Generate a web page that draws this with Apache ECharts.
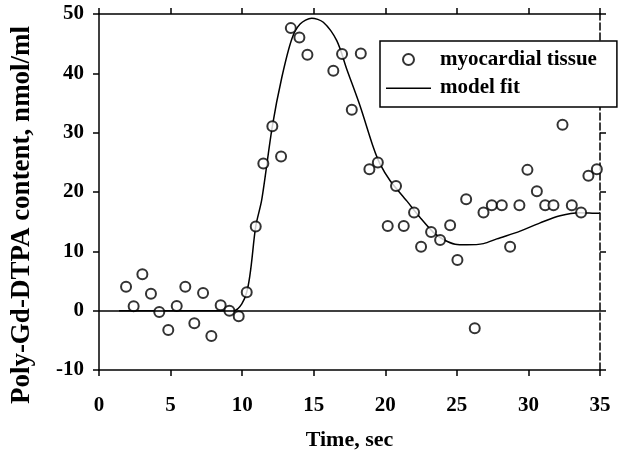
<!DOCTYPE html>
<html>
<head>
<meta charset="utf-8">
<script src="https://cdn.jsdelivr.net/npm/echarts@6/dist/echarts.min.js"></script>
<style>
html,body{margin:0;padding:0;background:#fff;}
#chart{width:624px;height:459px;}
</style>
</head>
<body>
<div id="chart"></div>
<script>
// Observed myocardial tissue content (time in s, nmol/ml)
var obsTime = [1.89, 2.42, 3.03, 3.63, 4.21, 4.84, 5.43, 6.03, 6.66, 7.27, 7.85, 8.50, 9.11, 9.76, 10.32,
  10.95, 11.48, 12.11, 12.72, 13.40, 14.00, 14.56, 16.37, 16.98, 17.66, 18.29, 18.89, 19.48,
  20.17, 20.75, 21.29, 22.01, 22.50, 23.20, 23.83, 24.53, 25.04, 25.65, 26.25, 26.86, 27.44,
  28.14, 28.72, 29.37, 29.93, 30.59, 31.17, 31.75, 32.38, 33.03, 33.68, 34.19, 34.78];
var obsValue = [4.05, 0.74, 6.14, 2.87, -0.22, -3.25, 0.79, 4.05, -2.12, 2.98, -4.27, 0.91, 0.0, -0.94, 3.10,
  14.17, 24.79, 31.10, 25.97, 47.62, 46.04, 43.12, 40.42, 43.24, 33.85, 43.34, 23.85, 24.96,
  14.28, 21.03, 14.28, 16.53, 10.79, 13.27, 11.92, 14.40, 8.55, 18.79, -2.97, 16.53, 17.77,
  17.77, 10.79, 17.77, 23.73, 20.13, 17.77, 17.77, 31.32, 17.77, 16.53, 22.72, 23.85];

// Model fit curve
var fitTime = [1.4, 9.39, 10.32, 10.95, 11.37, 12.11, 12.77, 13.47, 14.05, 14.86, 15.67, 16.61, 17.31,
  18.24, 19.17, 19.64, 20.34, 21.5, 22.43, 23.36, 24.06, 24.88, 25.7, 26.86, 27.79, 29.42, 30.82,
  32.21, 33.6, 34.89, 35];
var fitValue = [0, 0, 3.1, 14.2, 18.7, 31.1, 39.3, 45.8, 48.3, 49.3, 48.6, 45.5, 40.7,
  34.5, 27.5, 24.7, 21.9, 18.5, 15.7, 13.2, 12.0, 11.2, 11.1, 11.3, 12.1, 13.4, 14.8,
  16.0, 16.5, 16.4, 16.5];

var xRange = [0, 35], xStep = 5;
var yRange = [-10, 50], yStep = 10;
var seriesNames = ['myocardial tissue', 'model fit'];
var xTitle = 'Time, sec';
var yTitle = 'Poly-Gd-DTPA content, nmol/ml';

var FONT = '"Liberation Serif", "Times New Roman", serif';

function zip(a, b) { return a.map(function (v, i) { return [v, b[i]]; }); }

var chart = echarts.init(document.getElementById('chart'), null, {renderer: 'canvas'});
chart.setOption({
  animation: false,
  backgroundColor: '#fff',
  grid: {left: 99, right: 24, top: 14, bottom: 89, containLabel: false},
  legend: {
    orient: 'vertical',
    left: 380, top: 41,
    padding: [8, 20, 9, 6],
    itemGap: 7,
    itemWidth: 45, itemHeight: 11,
    borderColor: '#000', borderWidth: 1.5,
    backgroundColor: '#fff',
    textStyle: {fontFamily: FONT, fontWeight: 'bold', fontSize: 21, color: '#000', padding: [0, 0, 0, 4]},
    data: [
      {name: seriesNames[0], icon: 'emptyCircle', itemStyle: {borderWidth: 1.8}},
      {name: seriesNames[1], icon: 'path://M0,0L0,0Z M0,5.6H45V7.1H0Z M45,11L45,11Z', itemStyle: {color: '#000'}}
    ]
  },
  xAxis: [{
    type: 'value', position: 'bottom', min: xRange[0], max: xRange[1], interval: xStep,
    name: xTitle, nameLocation: 'middle', nameGap: 59,
    nameTextStyle: {fontFamily: FONT, fontWeight: 'bold', fontSize: 22, color: '#000'},
    axisLine: {show: true, onZero: false, lineStyle: {color: '#000', width: 1.5}},
    axisTick: {show: true, inside: false, length: 6, lineStyle: {color: '#000', width: 1.5}},
    axisLabel: {fontFamily: FONT, fontWeight: 'bold', fontSize: 21, color: '#000', margin: 25},
    splitLine: {show: false}
  }, {
    type: 'value', position: 'top', min: xRange[0], max: xRange[1], interval: xStep,
    axisLine: {show: true, onZero: false, lineStyle: {color: '#000', width: 1.5}},
    axisTick: {show: true, inside: false, length: 6, lineStyle: {color: '#000', width: 1.5}},
    axisLabel: {show: false},
    splitLine: {show: false}
  }],
  yAxis: [{
    type: 'value', position: 'left', min: yRange[0], max: yRange[1], interval: yStep,
    name: yTitle, nameLocation: 'middle', nameGap: 63, nameRotate: 90,
    nameTextStyle: {fontFamily: FONT, fontWeight: 'bold', fontSize: 27, color: '#000', padding: [0, 46, 0, 0]},
    axisLine: {show: true, onZero: false, lineStyle: {color: '#000', width: 1.5}},
    axisTick: {show: true, inside: false, length: 6, lineStyle: {color: '#000', width: 1.5}},
    axisLabel: {fontFamily: FONT, fontWeight: 'bold', fontSize: 21, color: '#000', margin: 15},
    splitLine: {show: false}
  }, {
    type: 'value', position: 'right', min: yRange[0], max: yRange[1], interval: yStep,
    axisLine: {show: true, onZero: false, lineStyle: {color: '#000', width: 1.5, type: [7, 3]}},
    axisTick: {show: true, inside: false, length: 6, lineStyle: {color: '#000', width: 1.5}},
    axisLabel: {show: false},
    splitLine: {show: false}
  }],
  series: [{
    name: seriesNames[1],
    type: 'line',
    xAxisIndex: 0, yAxisIndex: 0,
    data: zip(fitTime, fitValue),
    symbol: 'none',
    smooth: 0.3,
    lineStyle: {color: '#000', width: 1.5},
    itemStyle: {color: '#000'},
    z: 2,
    markLine: {
      silent: true, symbol: 'none', label: {show: false},
      lineStyle: {color: '#000', width: 1.5, type: 'solid'},
      data: [{yAxis: 0}]
    }
  }, {
    name: seriesNames[0],
    type: 'scatter',
    xAxisIndex: 0, yAxisIndex: 0,
    data: zip(obsTime, obsValue),
    symbol: 'emptyCircle',
    symbolSize: 10,
    itemStyle: {color: '#000', borderColor: '#000', borderWidth: 1.8},
    z: 3
  }]
});
</script>
</body>
</html>
